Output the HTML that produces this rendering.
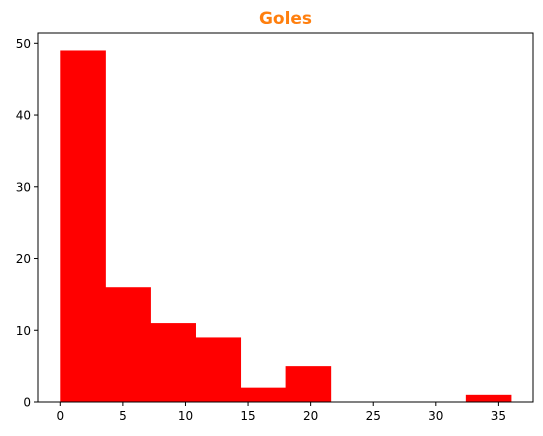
<!DOCTYPE html>
<html><head><meta charset="utf-8"><style>body{margin:0;background:#fff}svg{display:block;font-family:"DejaVu Sans","Liberation Sans",sans-serif}</style></head>
<body>
<svg id="c" width="543" height="436"></svg>
<script>
const binEdges=[0,3.6,7.2,10.8,14.4,18,21.6,25.2,28.8,32.4,36];
const counts=[49,16,11,9,2,5,0,0,0,1];
const xTicks=[0,5,10,15,20,25,30,35];
const yTicks=[0,10,20,30,40,50];
const L=38,R=533,T=33,B=402;
const X=v=>60.3+(v)*12.517;
const Y=v=>B-v*7.174;
const s=document.getElementById('c');
const NS='http://www.w3.org/2000/svg';
function mk(t,a,p){const e=document.createElementNS(NS,t);for(const k in a)e.setAttribute(k,a[k]);(p||s).appendChild(e);return e;}
counts.forEach((c,i)=>{if(c<=0)return;
const r=mk('rect',{x:X(binEdges[i]),y:Y(c),width:X(binEdges[i+1])-X(binEdges[i])+0.5,height:B-Y(c),fill:'#ff0000'});

});
const fr=mk('rect',{x:L,y:T,width:R-L,height:B-T,fill:'none',stroke:'#000','stroke-width':1});


xTicks.forEach(v=>{const x=X(v);mk('line',{x1:x,x2:x,y1:B,y2:B+4,stroke:'#000'});
const t=mk('text',{x:x,y:B+18,'text-anchor':'middle','font-size':12});t.textContent=v;

});
yTicks.forEach(v=>{const y=Y(v);mk('line',{x1:L-4,x2:L,y1:y,y2:y,stroke:'#000'});
const t=mk('text',{x:L-7,y:y+4.5,'text-anchor':'end','font-size':12});t.textContent=v;

});
const ti=mk('text',{x:(L+R)/2,y:24,'text-anchor':'middle','font-size':17,'font-weight':'bold',fill:'#ff7f0e'});ti.textContent='Goles';


</script>
</body></html>
